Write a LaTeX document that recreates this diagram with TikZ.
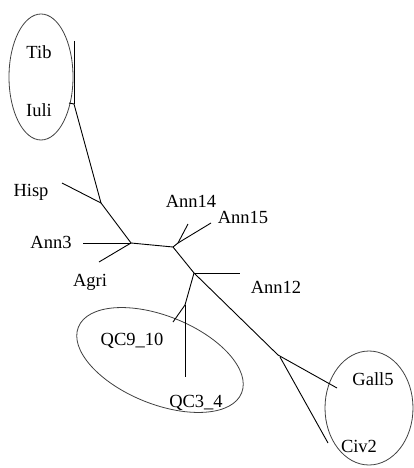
\documentclass[tikz,border=0pt]{standalone}
\usepackage{fontspec}
\setmainfont{Liberation Serif}
\begin{document}
\begin{tikzpicture}[x=1pt,y=-1pt,
  lbl/.style={inner sep=0pt,font=\fontsize{18.5}{20}\selectfont},
  branch/.style={draw=black,line width=0.9pt},
  group/.style={draw=black!75,line width=0.8pt}]
\useasboundingbox (0,0) rectangle (414,468);
% groups
\draw[group] (41,77) ellipse [x radius=32, y radius=63];
\draw[group,rotate around={-22:(160,360)}] (160,360) ellipse [x radius=88, y radius=44];
\draw[group] (369,408) ellipse [x radius=44, y radius=57];
% labels
\node[lbl] (tib) at (39,52) {Tib};
\node[lbl] (iuli) at (39,110) {Iuli};
\node[lbl] (hisp) at (31,192) {Hisp};
\node[lbl] (ann3) at (51,242) {Ann3};
\node[lbl] (agri) at (90,282) {Agri};
\node[lbl] (ann14) at (191,201) {Ann14};
\node[lbl] (ann15) at (243,217) {Ann15};
\node[lbl] (ann12) at (276,287) {Ann12};
\node[lbl] (qc9) at (132,341) {QC9\_10};
\node[lbl] (qc3) at (196,403) {QC3\_4};
\node[lbl] (gall5) at (373,379) {Gall5};
\node[lbl] (civ2) at (359,446) {Civ2};
% tree coordinates
\coordinate (tibE) at (74,41);
\coordinate (iuliJ) at (74,104);
\coordinate (iuliE) at (69,103);
\coordinate (hispJ) at (101,203);
\coordinate (hispE) at (62,183);
\coordinate (annJ) at (131,243);
\coordinate (ann3E) at (83,243);
\coordinate (agriE) at (99,262);
\coordinate (j2) at (173,247);
\coordinate (j15) at (178,243);
\coordinate (ann14E) at (188,224);
\coordinate (ann15E) at (211,223);
\coordinate (j3) at (194,273);
\coordinate (ann12E) at (240,273);
\coordinate (qcJ) at (185,305);
\coordinate (qc9E) at (173,322);
\coordinate (qc3E) at (185,377);
\coordinate (gJ) at (278,355);
\coordinate (civS) at (280,357);
\coordinate (gallE) at (337,388);
\coordinate (civE) at (328,443);
% branches
\draw[branch] (tibE) -- (iuliJ);
\draw[branch] (iuliJ) -- (iuliE);
\draw[branch] (iuliJ) -- (hispJ);
\draw[branch] (hispJ) -- (hispE);
\draw[branch] (hispJ) -- (annJ);
\draw[branch] (annJ) -- (ann3E);
\draw[branch] (annJ) -- (agriE);
\draw[branch] (annJ) -- (j2);
\draw[branch] (j2) -- (j15);
\draw[branch] (j15) -- (ann14E);
\draw[branch] (j15) -- (ann15E);
\draw[branch] (j2) -- (j3);
\draw[branch] (j3) -- (ann12E);
\draw[branch] (j3) -- (qcJ);
\draw[branch] (qcJ) -- (qc9E);
\draw[branch] (qcJ) -- (qc3E);
\draw[branch] (j3) -- (gJ);
\draw[branch] (gJ) -- (gallE);
\draw[branch] (civS) -- (civE);
\end{tikzpicture}
\end{document}
